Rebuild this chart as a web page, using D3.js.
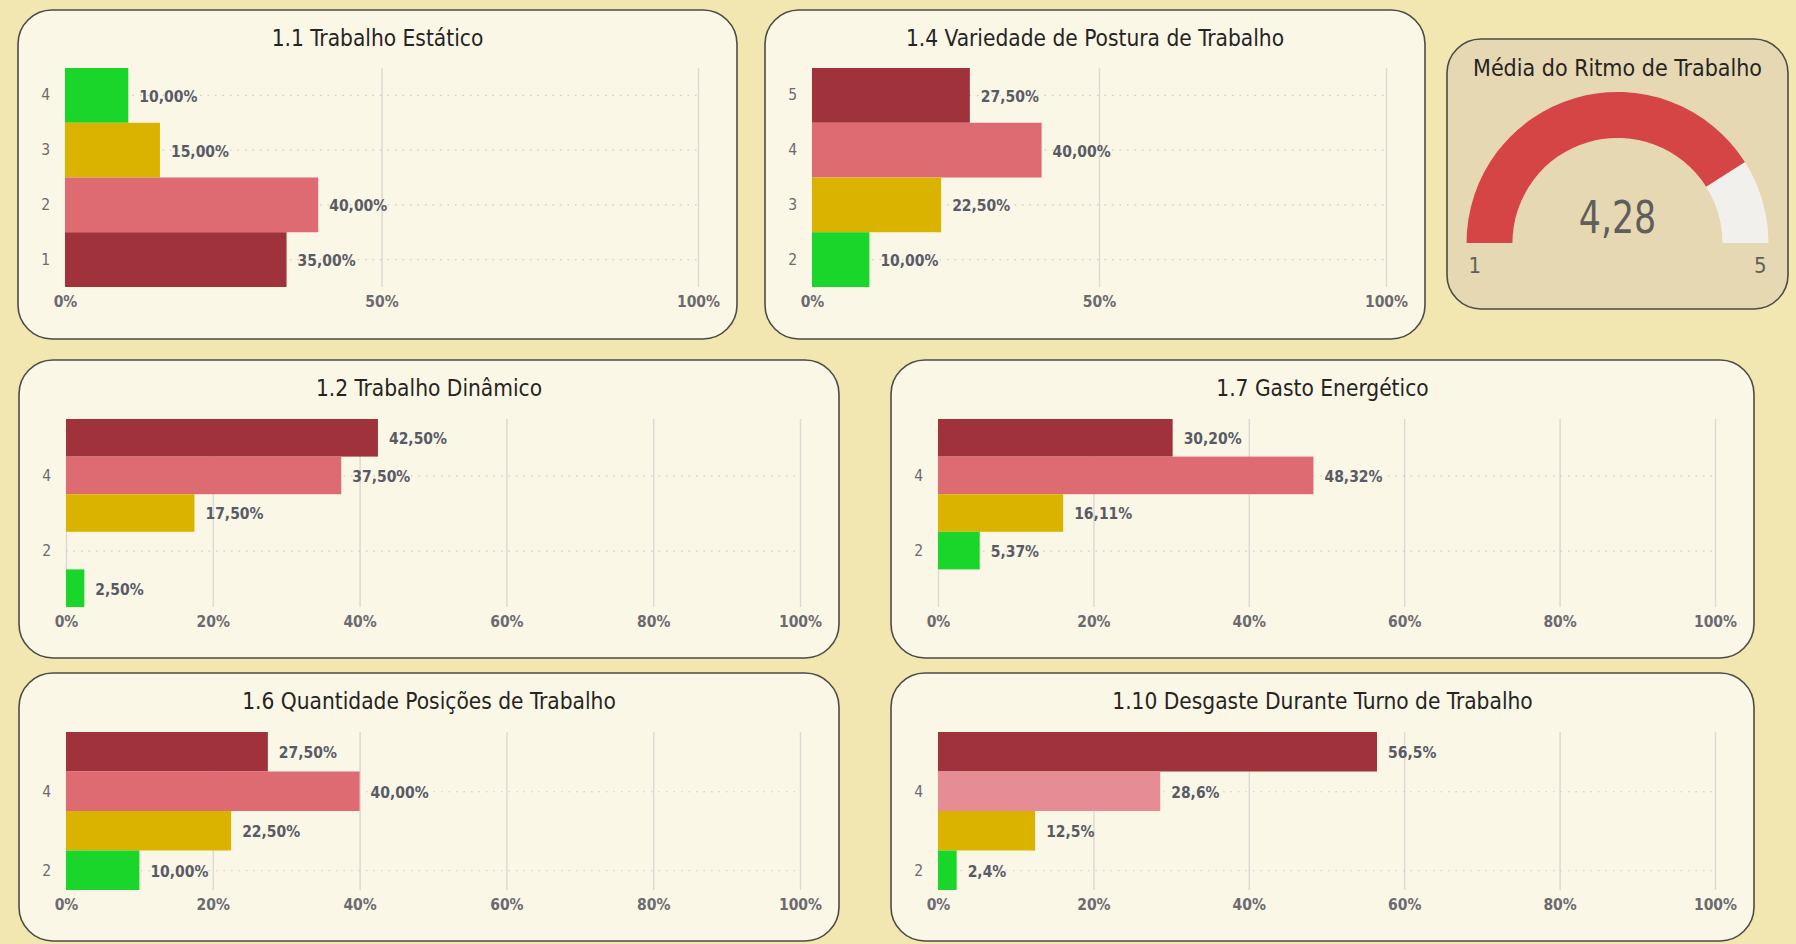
<!DOCTYPE html>
<html>
<head>
<meta charset="utf-8">
<script src="https://cdn.jsdelivr.net/npm/d3@7"></script>
<style>
  body { margin: 0; background: #f3e7b1; }
  svg { display: block; }
</style>
</head>
<body>
<div id="dash"></div>
<script>
const cats11 = [4, 3, 2, 1]
const vals11 = [10.00, 15.00, 40.00, 35.00]

const cats14 = [5, 4, 3, 2]
const vals14 = [27.50, 40.00, 22.50, 10.00]

const cats12 = [5, 4, 3, 1]
const vals12 = [42.50, 37.50, 17.50, 2.50]

const cats17 = [5, 4, 3, 2]
const vals17 = [30.20, 48.32, 16.11, 5.37]

const cats16 = [5, 4, 3, 2]
const vals16 = [27.50, 40.00, 22.50, 10.00]

const cats110 = [5, 4, 3, 2]
const vals110 = [56.5, 28.6, 12.5, 2.4]

const ticksHalf = [0, 50, 100]
const ticksFifth = [0, 20, 40, 60, 80, 100]
const yTicksLinear = [2, 4]

const gaugeMin = 1
const gaugeMax = 5
const gaugeValue = 4.28

const DARK = "#a0323c", PINK = "#de6a72", LIGHTPINK = "#e68c94", YELLOW = "#d9b300", GREEN = "#1ad62a"

const WIDTH = 1796, HEIGHT = 944
const FONT = "'DejaVu Sans Condensed', 'DejaVu Sans', sans-serif"
const MARGIN = {top: 58, bot: 52, left: 47, right: 39}

const br = d3.formatLocale({decimal: ",", thousands: ".", grouping: [3], currency: ["R$", ""]})

const svg = d3.select("#dash")
    .append("svg")
    .attr("width", WIDTH)
    .attr("height", HEIGHT)
    .style("font-family", FONT)

svg.append("rect")
    .attr("width", WIDTH)
    .attr("height", HEIGHT)
    .attr("fill", "#f3e7b1")

const charts = [
    {title: "1.1 Trabalho Estático", cats: cats11, vals: vals11, colors: [GREEN, YELLOW, PINK, DARK],
     xTicks: ticksHalf, band: true, digits: 2, box: [18, 10, 719, 329]},
    {title: "1.4 Variedade de Postura de Trabalho", cats: cats14, vals: vals14, colors: [DARK, PINK, YELLOW, GREEN],
     xTicks: ticksHalf, band: true, digits: 2, box: [765, 10, 660, 329]},
    {title: "1.2 Trabalho Dinâmico", cats: cats12, vals: vals12, colors: [DARK, PINK, YELLOW, GREEN],
     xTicks: ticksFifth, yDomain: [5.5, 0.5], digits: 2, box: [19, 360, 820, 298]},
    {title: "1.7 Gasto Energético", cats: cats17, vals: vals17, colors: [DARK, PINK, YELLOW, GREEN],
     xTicks: ticksFifth, yDomain: [5.5, 0.5], digits: 2, box: [891, 360, 863, 298]},
    {title: "1.6 Quantidade Posições de Trabalho", cats: cats16, vals: vals16, colors: [DARK, PINK, YELLOW, GREEN],
     xTicks: ticksFifth, yDomain: [5.5, 1.5], digits: 2, box: [19, 673, 820, 268]},
    {title: "1.10 Desgaste Durante Turno de Trabalho", cats: cats110, vals: vals110, colors: [DARK, LIGHTPINK, YELLOW, GREEN],
     xTicks: ticksFifth, yDomain: [5.5, 1.5], digits: 1, box: [891, 673, 863, 268]}
]

function panel(g, box, fill) {
    g.append("rect")
        .attr("x", box[0])
        .attr("y", box[1])
        .attr("width", box[2])
        .attr("height", box[3])
        .attr("rx", 34)
        .attr("fill", fill)
        .attr("stroke", "#4b4b48")
        .attr("stroke-width", 1.6)
}

charts.forEach(c => {
    const [bx, by, bw, bh] = c.box
    const g = svg.append("g")
    panel(g, c.box, "#fbf7e6")

    g.append("text")
        .attr("x", bx + bw / 2)
        .attr("y", by + 36)
        .attr("text-anchor", "middle")
        .attr("font-size", 22.5)
        .attr("fill", "#252423")
        .text(c.title)

    const left = bx + MARGIN.left, right = bx + bw - MARGIN.right
    const top = by + MARGIN.top + (c.band ? 0 : 1), bottom = by + bh - MARGIN.bot + (c.band ? 0 : 1)

    const x = d3.scaleLinear().domain([0, 100]).range([left, right])
    let y, yAxis, barTop, barH, mid
    if (c.band) {
        y = d3.scaleBand().domain(c.cats).range([top, bottom]).padding(0)
        yAxis = d3.axisLeft(y)
        barTop = d => y(d)
        barH = () => y.bandwidth()
        mid = d => y(d) + y.bandwidth() / 2
    } else {
        y = d3.scaleLinear().domain(c.yDomain).range([top, bottom])
        yAxis = d3.axisLeft(y).tickValues(yTicksLinear).tickFormat(d3.format("d"))
        barTop = d => y(d + 0.5)
        barH = d => y(d - 0.5) - y(d + 0.5)
        mid = d => y(d)
    }

    const xg = g.append("g")
        .attr("transform", `translate(0, ${bottom})`)
        .call(d3.axisBottom(x).tickValues(c.xTicks).tickFormat(d => d + "%")
            .tickSizeInner(-(bottom - top)).tickSizeOuter(0).tickPadding(9))
    xg.select(".domain").remove()
    xg.selectAll("line").attr("stroke", "#dcdad4").attr("stroke-width", 1.5)
    xg.selectAll("text")
        .attr("font-size", 15.5)
        .attr("font-weight", "bold")
        .attr("fill", "#6b6a70")
        .attr("font-family", FONT)

    const yg = g.append("g")
        .attr("transform", `translate(${left}, 0)`)
        .call(yAxis.tickSizeInner(-(right - left)).tickSizeOuter(0).tickPadding(15))
    yg.select(".domain").remove()
    yg.selectAll("line")
        .attr("stroke", "#cfcdc6")
        .attr("stroke-width", 1.2)
        .attr("stroke-dasharray", "1.5,6")
    yg.selectAll("text")
        .attr("font-size", 15.5)
        .attr("fill", "#6b6a70")
        .attr("font-family", FONT)

    const rows = c.cats.map((k, i) => ({k: k, v: c.vals[i], color: c.colors[i]}))

    g.selectAll(".bar")
        .data(rows)
        .join("rect")
        .attr("x", x(0))
        .attr("y", d => barTop(d.k))
        .attr("width", d => x(d.v) - x(0))
        .attr("height", d => barH(d.k))
        .attr("fill", d => d.color)

    const fmt = br.format("." + c.digits + "f")
    g.selectAll(".lbl")
        .data(rows)
        .join("text")
        .attr("x", d => x(d.v) + 11)
        .attr("y", d => mid(d.k) + 1)
        .attr("dy", "0.35em")
        .attr("font-size", 15.5)
        .attr("font-weight", "bold")
        .attr("fill", "#585b66")
        .text(d => fmt(d.v) + "%")
})

// medidor
const gbox = [1447, 39, 341, 270]
const gg = svg.append("g")
panel(gg, gbox, "#e6d8b2")

const cx = gbox[0] + gbox[2] / 2, cy = 243
const rIn = 105, rOut = 151

gg.append("text")
    .attr("x", cx)
    .attr("y", 76)
    .attr("text-anchor", "middle")
    .attr("font-size", 23)
    .attr("fill", "#252423")
    .text("Média do Ritmo de Trabalho")

const angle = d3.scaleLinear().domain([gaugeMin, gaugeMax]).range([-Math.PI / 2, Math.PI / 2])
const arc = d3.arc().innerRadius(rIn).outerRadius(rOut)

gg.append("path")
    .attr("transform", `translate(${cx}, ${cy})`)
    .attr("d", arc({startAngle: angle(gaugeMin), endAngle: angle(gaugeMax)}))
    .attr("fill", "#f2f0ed")

gg.append("path")
    .attr("transform", `translate(${cx}, ${cy})`)
    .attr("d", arc({startAngle: angle(gaugeMin), endAngle: angle(gaugeValue)}))
    .attr("fill", "#d64545")

gg.append("text")
    .attr("transform", `translate(${cx}, ${cy - 10}) scale(0.86, 1)`)
    .attr("text-anchor", "middle")
    .attr("font-size", 45)
    .attr("fill", "#605e5c")
    .text(br.format(".2f")(gaugeValue))

gg.append("text")
    .attr("x", cx - rOut + 2)
    .attr("y", cy + 30)
    .attr("font-size", 22)
    .attr("fill", "#605e5c")
    .text(gaugeMin)

gg.append("text")
    .attr("x", cx + rOut - 2)
    .attr("y", cy + 30)
    .attr("text-anchor", "end")
    .attr("font-size", 22)
    .attr("fill", "#605e5c")
    .text(gaugeMax)
</script>
</body>
</html>
